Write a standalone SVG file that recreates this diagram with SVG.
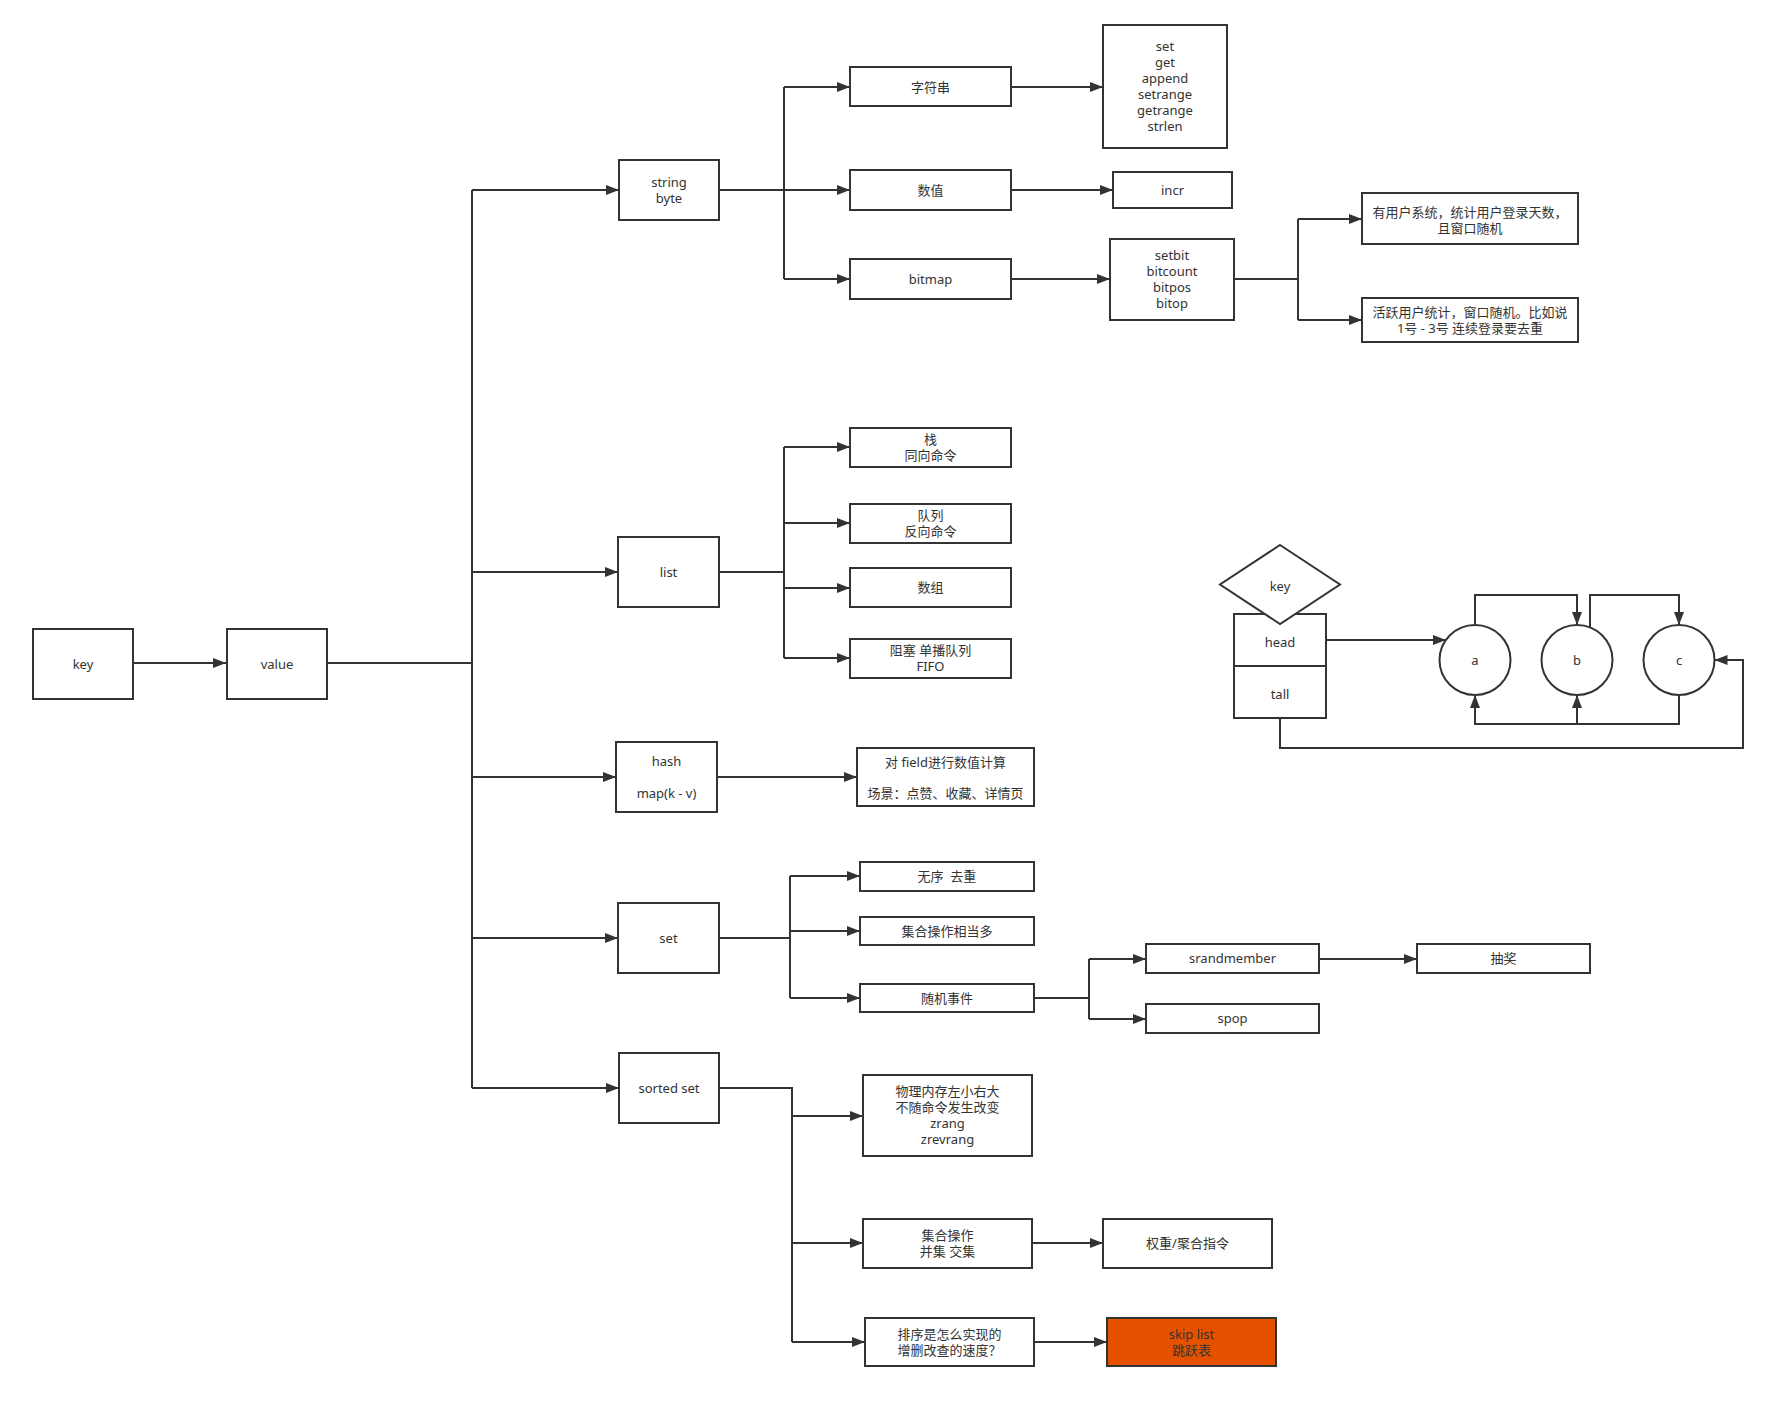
<svg xmlns="http://www.w3.org/2000/svg" width="1769" height="1425" viewBox="0 0 1769 1425">
<defs>
<marker id="arr" markerUnits="userSpaceOnUse" markerWidth="14" markerHeight="11" refX="13" refY="5" orient="auto">
<path d="M0,0 L13,5 L0,10 Z" fill="#333"/>
</marker>
<style>
.n rect,.n polygon,.n ellipse{fill:#fff;stroke:#333;stroke-width:2}
.n text{font-family:"Noto Sans","Noto Sans CJK SC",sans-serif;font-size:13px;fill:#333;text-anchor:middle}
.e path{fill:none;stroke:#333;stroke-width:2}
.a{marker-end:url(#arr)}
</style>
</defs>
<rect width="1769" height="1425" fill="#fff"/>
<g id="connectors" class="e">
<path class="a" d="M133,663 H226"/>
<path d="M327,663 H472"/>
<path d="M472,190 V1088"/>
<path class="a" d="M472,190 H619"/>
<path class="a" d="M472,572 H618"/>
<path class="a" d="M472,777 H616"/>
<path class="a" d="M472,938 H618"/>
<path class="a" d="M472,1088 H619"/>
<path d="M719,190 H784 M784,87 V279"/>
<path class="a" d="M784,87 H850"/>
<path class="a" d="M784,190 H850"/>
<path class="a" d="M784,279 H850"/>
<path class="a" d="M1011,87 H1103"/>
<path class="a" d="M1011,190 H1113"/>
<path class="a" d="M1011,279 H1110"/>
<path d="M1234,279 H1298 M1298,219 V320"/>
<path class="a" d="M1298,219 H1362"/>
<path class="a" d="M1298,320 H1362"/>
<path d="M719,572 H784 M784,447 V658"/>
<path class="a" d="M784,447 H850"/>
<path class="a" d="M784,523 H850"/>
<path class="a" d="M784,588 H850"/>
<path class="a" d="M784,658 H850"/>
<path class="a" d="M717,777 H857"/>
<path d="M719,938 H790 M790,876 V998"/>
<path class="a" d="M790,876 H860"/>
<path class="a" d="M790,931 H860"/>
<path class="a" d="M790,998 H860"/>
<path d="M1034,998 H1089 M1089,959 V1019"/>
<path class="a" d="M1089,959 H1146"/>
<path class="a" d="M1089,1019 H1146"/>
<path class="a" d="M1319,959 H1417"/>
<path d="M719,1088 H792 V1342"/>
<path class="a" d="M792,1116 H863"/>
<path class="a" d="M792,1243 H863"/>
<path class="a" d="M792,1342 H865"/>
<path class="a" d="M1032,1243 H1103"/>
<path class="a" d="M1034,1342 H1107"/>
<path class="a" d="M1326,640 H1446"/>
<path class="a" d="M1475,625 V595 H1577 V625"/>
<path class="a" d="M1590,627.5 V595 H1679 V625"/>
<path class="a" d="M1679,695 V724 H1475 V695"/>
<path class="a" d="M1577,724 V695"/>
<path class="a" d="M1280,718 V748 H1743 V660 H1714.5"/>
</g>
<g id="key" class="n"><rect x="33" y="629" width="100" height="70"/><text x="83" y="668.5">key</text></g>
<g id="value" class="n"><rect x="227" y="629" width="100" height="70"/><text x="277" y="668.5">value</text></g>
<g id="string-byte" class="n"><rect x="619" y="160" width="100" height="60"/><text x="669" y="187">string</text><text x="669" y="203">byte</text></g>
<g id="zifuchuan" class="n"><rect x="850" y="67" width="161" height="39"/><text x="930.5" y="91.5">字符串</text></g>
<g id="shuzhi" class="n"><rect x="850" y="170" width="161" height="40"/><text x="930.5" y="194.5">数值</text></g>
<g id="bitmap" class="n"><rect x="850" y="259" width="161" height="40"/><text x="930.5" y="283.5">bitmap</text></g>
<g id="string-cmds" class="n"><rect x="1103" y="25" width="124" height="123"/>
<text x="1165" y="51">set</text><text x="1165" y="67">get</text><text x="1165" y="83">append</text><text x="1165" y="99">setrange</text><text x="1165" y="115">getrange</text><text x="1165" y="131">strlen</text></g>
<g id="incr" class="n"><rect x="1113" y="172" width="119" height="36"/><text x="1172.5" y="194.5">incr</text></g>
<g id="bit-cmds" class="n"><rect x="1110" y="239" width="124" height="81"/>
<text x="1172" y="260">setbit</text><text x="1172" y="276">bitcount</text><text x="1172" y="292">bitpos</text><text x="1172" y="308">bitop</text></g>
<g id="user-login" class="n"><rect x="1362" y="193" width="216" height="51"/><text x="1470" y="217">有用户系统，统计用户登录天数，</text><text x="1470" y="233">且窗口随机</text></g>
<g id="active-user" class="n"><rect x="1362" y="298" width="216" height="44"/><text x="1470" y="317">活跃用户统计，窗口随机。比如说</text><text x="1470" y="333">1号 - 3号 连续登录要去重</text></g>
<g id="list" class="n"><rect x="618" y="537" width="101" height="70"/><text x="668.5" y="576.5">list</text></g>
<g id="zhan" class="n"><rect x="850" y="428" width="161" height="39"/><text x="930.5" y="444">栈</text><text x="930.5" y="460">同向命令</text></g>
<g id="duilie" class="n"><rect x="850" y="504" width="161" height="39"/><text x="930.5" y="520">队列</text><text x="930.5" y="536">反向命令</text></g>
<g id="shuzu" class="n"><rect x="850" y="568" width="161" height="39"/><text x="930.5" y="592">数组</text></g>
<g id="zuse" class="n"><rect x="850" y="639" width="161" height="39"/><text x="930.5" y="655">阻塞 单播队列</text><text x="930.5" y="671">FIFO</text></g>
<g id="hash" class="n"><rect x="616" y="742" width="101" height="70"/><text x="666.5" y="766">hash</text><text x="666.5" y="797.5">map(k - v)</text></g>
<g id="field" class="n"><rect x="857" y="748" width="177" height="58"/><text x="945.5" y="766.5">对 field进行数值计算</text><text x="945.5" y="797.5">场景：点赞、收藏、详情页</text></g>
<g id="set" class="n"><rect x="618" y="903" width="101" height="70"/><text x="668.5" y="942.5">set</text></g>
<g id="wuxu" class="n"><rect x="860" y="862" width="174" height="29"/><text x="947" y="881" xml:space="preserve">无序  去重</text></g>
<g id="jihe-duo" class="n"><rect x="860" y="917" width="174" height="28"/><text x="947" y="935.5">集合操作相当多</text></g>
<g id="suiji" class="n"><rect x="860" y="984" width="174" height="28"/><text x="947" y="1002.5">随机事件</text></g>
<g id="srandmember" class="n"><rect x="1146" y="944" width="173" height="29"/><text x="1232.5" y="963">srandmember</text></g>
<g id="spop" class="n"><rect x="1146" y="1004" width="173" height="29"/><text x="1232.5" y="1023">spop</text></g>
<g id="choujiang" class="n"><rect x="1417" y="944" width="173" height="29"/><text x="1503.5" y="963">抽奖</text></g>
<g id="sorted-set" class="n"><rect x="619" y="1053" width="100" height="70"/><text x="669" y="1092.5">sorted set</text></g>
<g id="wuli" class="n"><rect x="863" y="1075" width="169" height="81"/>
<text x="947.5" y="1096">物理内存左小右大</text><text x="947.5" y="1112">不随命令发生改变</text><text x="947.5" y="1128">zrang</text><text x="947.5" y="1144">zrevrang</text></g>
<g id="jihe-caozuo" class="n"><rect x="863" y="1219" width="169" height="49"/><text x="947.5" y="1240">集合操作</text><text x="947.5" y="1256">并集 交集</text></g>
<g id="quanzhong" class="n"><rect x="1103" y="1219" width="169" height="49"/><text x="1187.5" y="1248">权重/聚合指令</text></g>
<g id="paixu" class="n"><rect x="865" y="1318" width="169" height="48"/><text x="949.5" y="1338.5">排序是怎么实现的</text><text x="949.5" y="1354.5">增删改查的速度？</text></g>
<g id="skiplist" class="n"><rect x="1107" y="1318" width="169" height="48" style="fill:#E65100"/><text x="1191.5" y="1338.5">skip list</text><text x="1191.5" y="1354.5">跳跃表</text></g>
<g id="head" class="n"><rect x="1234" y="614" width="92" height="52"/><text x="1280" y="646.5">head</text></g>
<g id="tall" class="n"><rect x="1234" y="666" width="92" height="52"/><text x="1280" y="698.5">tall</text></g>
<g id="key-diamond" class="n"><polygon points="1280,545 1340,584.5 1280,624 1220,584.5"/><text x="1280" y="591">key</text></g>
<g id="node-a" class="n"><ellipse cx="1475" cy="660" rx="35.5" ry="35"/><text x="1475" y="664.5">a</text></g>
<g id="node-b" class="n"><ellipse cx="1577" cy="660" rx="35.5" ry="35"/><text x="1577" y="664.5">b</text></g>
<g id="node-c" class="n"><ellipse cx="1679" cy="660" rx="35.5" ry="35"/><text x="1679" y="664.5">c</text></g>
</svg>
